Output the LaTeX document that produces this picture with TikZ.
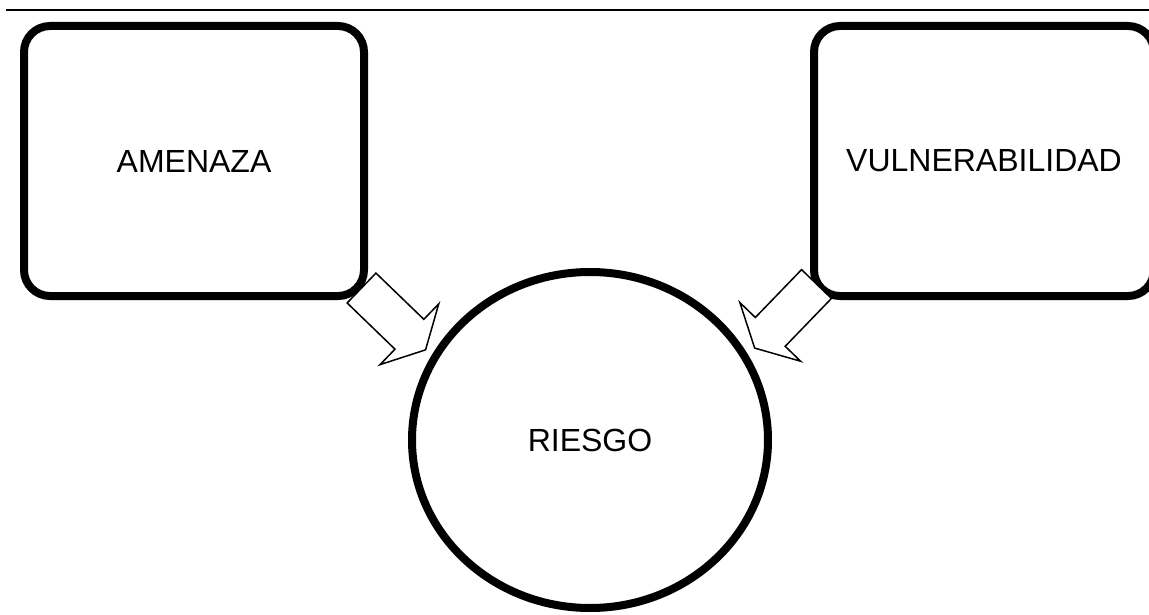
\documentclass[tikz,border=0pt]{standalone}
\usepackage{fontspec}
\setmainfont{Liberation Sans}
\usetikzlibrary{shapes.geometric,shapes.arrows,shadows}
\tikzset{
  factor/.style={draw, line width=8pt, rounded corners=26pt, fill=white,
    minimum width=340pt, minimum height=270pt,
    drop shadow={opacity=0.2, shadow xshift=2pt, shadow yshift=-4pt},
    font=\fontsize{32}{38}\selectfont},
  result/.style={ellipse, draw, line width=8pt, fill=white,
    minimum width=356pt, minimum height=336pt,
    drop shadow={opacity=0.2, shadow xshift=2pt, shadow yshift=-4pt},
    font=\fontsize{32}{38}\selectfont},
  blockarrow/.style={single arrow, draw, line width=1.5pt, fill=white,
    inner sep=0pt, inner ysep=20pt, minimum height=89pt,
    single arrow head extend=21.5pt, single arrow tip angle=124,
    anchor=tail}
}
\begin{document}
\begin{tikzpicture}[x=1pt,y=-1pt]
  \useasboundingbox (0,0) rectangle (1149,615);
  \draw[line width=2pt] (6,10) -- (1149,10);

  \node[factor] (amenaza) at (194,161) {AMENAZA};
  \node[factor] (vulnerabilidad) at (984,161) {VULNERABILIDAD};
  \node[result] (riesgo) at (590,440) {RIESGO};

  % flechas hacia el riesgo
  \node[blockarrow, rotate=-44] (flechaA) at (361,287.5) {};
  \node[blockarrow, rotate=-134] (flechaV) at (817,283.5) {};
\end{tikzpicture}
\end{document}
